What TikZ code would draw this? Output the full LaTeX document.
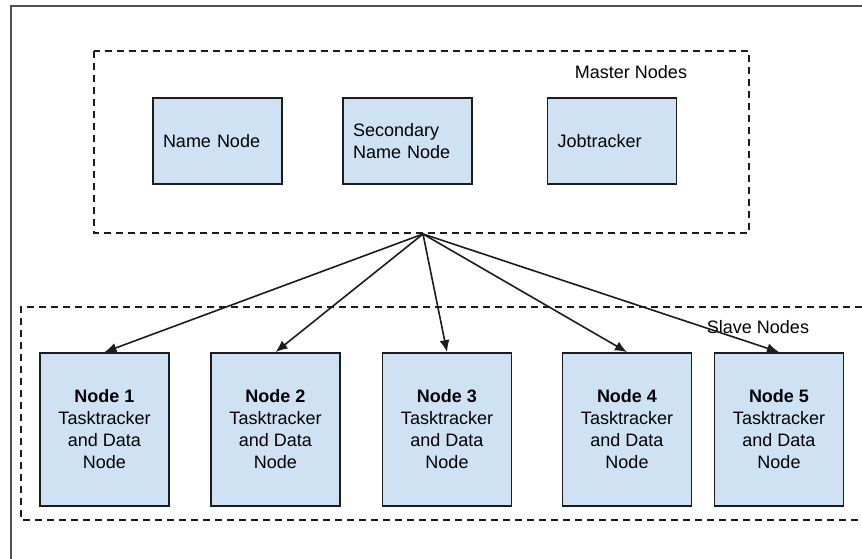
\documentclass[tikz,border=0pt]{standalone}
\usepackage{fontspec}
\setmainfont{Liberation Sans}
\usetikzlibrary{positioning,arrows.meta}
\definecolor{celeste}{HTML}{CFE2F3}
\definecolor{negro}{HTML}{1C1C1C}
\definecolor{grismarco}{HTML}{4F4F4F}
\tikzset{
  caja/.style={draw=negro, fill=celeste, line width=1.8pt, minimum width=129pt, inner sep=0pt},
  cajamaestro/.style={caja, minimum height=86pt, text width=109pt, inner xsep=10pt, align=left},
  cajanodo/.style={caja, minimum height=153pt, align=center},
  grupo/.style={negro, dashed, dash pattern=on 7pt off 5pt, line width=1.7pt},
  flecha/.style={negro, line width=1.6pt, -{Latex[length=12pt,width=10pt]}}
}

\begin{document}
\begin{tikzpicture}[x=1pt, y=-1pt, font=\fontsize{18}{22}\selectfont]
        \useasboundingbox (0,0) rectangle (862,559);
        \draw[grismarco, line width=1.6pt] (11,559) -- (11,6) -- (862,6);
        % maestros
        \draw[grupo] (94,51) rectangle (749,233);
        \node (maestros) at (631,72) {Master Nodes};
        \node[cajamaestro] (namenode) at (217.5,141) {Name Node};
        \node[cajamaestro] (secundario) at (407.5,141) {Secondary\\Name Node};
        \node[cajamaestro] (jobtracker) at (612,141) {Jobtracker};
        \coordinate (abanico) at (423,234);
        % esclavos
        \draw[grupo] (862,307) -- (21,307) -- (21,520) -- (862,520);
        \node (esclavos) at (758,327) {Slave Nodes};
        \foreach \i/\x in {1/104.5, 2/275.5, 3/447, 4/627, 5/779} {
          \node[cajanodo] (n\i) at (\x,429.5) {\textbf{Node \i}\\Tasktracker\\and Data\\Node};
          \draw[flecha] (abanico) -- (n\i.north);
        }
      \end{tikzpicture}
\end{document}
